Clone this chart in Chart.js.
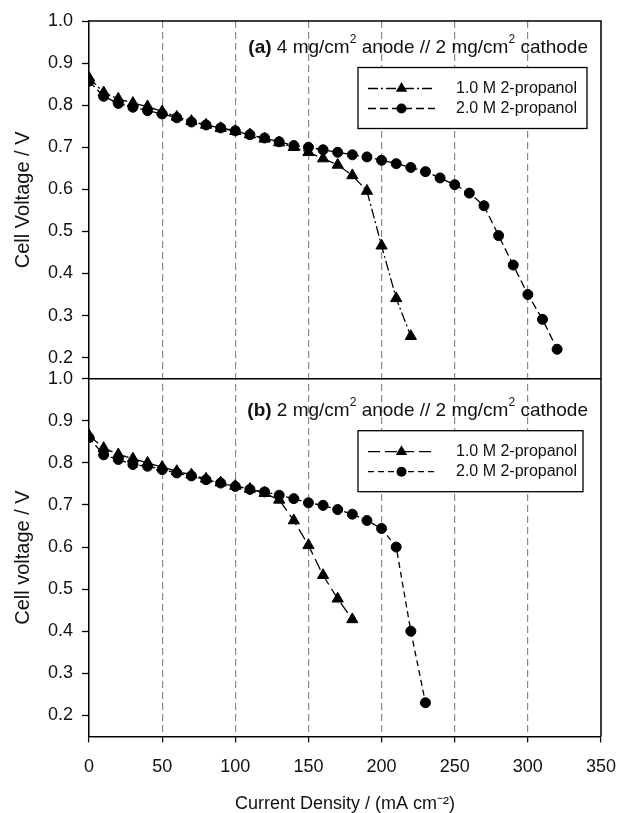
<!DOCTYPE html>
<html>
<head>
<meta charset="utf-8">
<script src="https://cdn.jsdelivr.net/npm/chart.js@4.4.0/dist/chart.umd.min.js"></script>
<style>
  html, body { margin: 0; padding: 0; background: #fff; }
</style>
</head>
<body>
<canvas id="fuelCell" width="618" height="813"></canvas>
<script>
// ---- data ----
// (a) 4 mg/cm2 anode // 2 mg/cm2 cathode
var xTopLow = [0,10,20,30,40,50,60,70,80,90,100,110,120,130,140,150,160,170,180,190,200,210,220]
var vTopLow = [0.865,0.83,0.815,0.805,0.797,0.785,0.772,0.762,0.753,0.745,0.738,0.73,0.72,0.711,0.70,0.688,0.673,0.658,0.633,0.596,0.466,0.341,0.251]
var xTopHigh = [0,10,20,30,40,50,60,70,80,90,100,110,120,130,140,150,160,170,180,190,200,210,220,230,240,250,260,270,280,290,300,310,320]
var vTopHigh = [0.857,0.821,0.804,0.795,0.787,0.779,0.770,0.760,0.753,0.746,0.739,0.730,0.722,0.713,0.704,0.700,0.694,0.688,0.682,0.677,0.669,0.661,0.652,0.642,0.627,0.611,0.591,0.561,0.490,0.420,0.350,0.291,0.220]

// (b) 2 mg/cm2 anode // 2 mg/cm2 cathode
var xBotLow = [0,10,20,30,40,50,60,70,80,90,100,110,120,130,140,150,160,170,180]
var vBotLow = [0.865,0.835,0.82,0.81,0.80,0.79,0.78,0.772,0.762,0.753,0.745,0.738,0.728,0.712,0.663,0.604,0.533,0.477,0.428]
var xBotHigh = [0,10,20,30,40,50,60,70,80,90,100,110,120,130,140,150,160,170,180,190,200,210,220,230]
var vBotHigh = [0.860,0.819,0.808,0.796,0.792,0.784,0.776,0.769,0.760,0.752,0.744,0.737,0.731,0.723,0.715,0.705,0.699,0.689,0.678,0.663,0.644,0.600,0.400,0.230]

var seriesNames = ['1.0 M 2-propanol', '2.0 M 2-propanol']
var yTickValues = [0.2, 0.3, 0.4, 0.5, 0.6, 0.7, 0.8, 0.9, 1.0]
var xTickValues = [0, 50, 100, 150, 200, 250, 300, 350]

var FONT = "'Liberation Sans', Arial, sans-serif"
var INK = '#111'

function pts(xs, ys){
  return xs.map(function(x, i){ return {x: x, y: ys[i]} })
}

function series(label, xs, ys, axis, style, dash){
  return {
    label: label,
    data: pts(xs, ys),
    yAxisID: axis,
    borderColor: '#000',
    backgroundColor: '#000',
    borderWidth: 1.3,
    borderDash: dash,
    pointStyle: style,
    pointRadius: style === 'triangle' ? 6.5 : 5,
    pointBorderWidth: 1,
    pointBackgroundColor: '#000',
    pointBorderColor: '#000',
    tension: 0
  }
}

var datasets = [
  series(seriesNames[0], xTopLow, vTopLow, 'yTop', 'triangle', [10, 3, 2, 3]),
  series(seriesNames[1], xTopHigh, vTopHigh, 'yTop', 'circle', [8, 4]),
  series(seriesNames[0], xBotLow, vBotLow, 'yBot', 'triangle', [12, 5]),
  series(seriesNames[1], xBotHigh, vBotHigh, 'yBot', 'circle', [6, 4])
]

function yAxis(title){
  return {
    type: 'linear',
    position: 'left',
    stack: 'panels',
    stackWeight: 1,
    min: 0.15,
    max: 1.0,
    afterBuildTicks: function(scale){
      scale.ticks = yTickValues.map(function(v){ return {value: v} })
    },
    ticks: {
      font: {family: FONT, size: 18},
      color: INK,
      padding: 9,
      callback: function(v){ return Number(v).toFixed(1) }
    },
    grid: {drawOnChartArea: false, drawTicks: true, tickLength: 7, tickColor: '#000', tickWidth: 1.3},
    border: {color: '#000', width: 1.5},
    title: {display: true, text: title, font: {family: FONT, size: 20}, color: INK, padding: {top: 4, bottom: 4}}
  }
}

/* panel texts and legends */
var panelDecor = {
  id: 'panelDecor',
  afterDraw: function(chart){
    var ctx = chart.ctx
    var ca = chart.chartArea
    var top = chart.scales.yTop, bot = chart.scales.yBot
    ctx.save()
    ctx.strokeStyle = '#000'
    ctx.lineWidth = 1.5
    ctx.beginPath()
    ctx.moveTo(ca.left, ca.top); ctx.lineTo(ca.right, ca.top); ctx.lineTo(ca.right, ca.bottom)
    ctx.moveTo(ca.left, top.bottom); ctx.lineTo(ca.right, top.bottom)
    ctx.stroke()
    ctx.restore()

    drawPanelTitle(ctx, '(a)', '4', ca.right - 13, top.top + 27)
    drawPanelTitle(ctx, '(b)', '2', ca.right - 13, bot.top + 32)

    drawLegend(ctx, [datasets[0], datasets[1]], 358, top.top + 46.5, 229)
    drawLegend(ctx, [datasets[2], datasets[3]], 358, bot.top + 52, 225)
  }
}

function drawPanelTitle(ctx, tag, load, right, y){
  var parts = [
    {t: tag, bold: true},
    {t: ' ' + load + ' mg/cm'},
    {t: '2', sup: true},
    {t: ' anode // 2 mg/cm'},
    {t: '2', sup: true},
    {t: ' cathode'}
  ]
  function fontOf(p){
    if (p.sup) return '12px ' + FONT
    return (p.bold ? 'bold ' : '') + '19px ' + FONT
  }
  ctx.save()
  var total = 0
  parts.forEach(function(p){ ctx.font = fontOf(p); total += ctx.measureText(p.t).width })
  var x = right - total
  ctx.fillStyle = INK
  ctx.textBaseline = 'middle'
  ctx.textAlign = 'left'
  parts.forEach(function(p){
    ctx.font = fontOf(p)
    ctx.fillText(p.t, x, p.sup ? y - 8 : y)
    x += ctx.measureText(p.t).width
  })
  ctx.restore()
}

function drawLegend(ctx, sets, x, y, w){
  var h = 61
  ctx.save()
  ctx.strokeStyle = '#000'
  ctx.lineWidth = 1.3
  ctx.fillStyle = '#fff'
  ctx.fillRect(x, y, w, h)
  ctx.strokeRect(x, y, w, h)
  sets.forEach(function(ds, i){
    var ry = y + 21 + i * 20
    ctx.setLineDash(ds.borderDash)
    ctx.lineWidth = 1.3
    ctx.beginPath(); ctx.moveTo(x + 10, ry); ctx.lineTo(x + 77, ry); ctx.stroke()
    ctx.setLineDash([])
    ctx.fillStyle = '#000'
    ctx.beginPath()
    if (ds.pointStyle === 'circle') {
      ctx.arc(x + 43.5, ry, 5, 0, Math.PI * 2)
    } else {
      ctx.moveTo(x + 43.5, ry - 6.5); ctx.lineTo(x + 49.2, ry + 3.3); ctx.lineTo(x + 37.8, ry + 3.3); ctx.closePath()
    }
    ctx.fill()
    ctx.fillStyle = INK
    ctx.font = '16px ' + FONT
    ctx.textBaseline = 'middle'
    ctx.fillText(ds.label, x + 98, ry)
  })
  ctx.restore()
}

new Chart(document.getElementById('fuelCell'), {
  type: 'line',
  data: {datasets: datasets},
  options: {
    responsive: false,
    animation: false,
    layout: {padding: {left: 7, right: 0, top: 21, bottom: 0}},
    plugins: {legend: {display: false}, tooltip: {enabled: false}},
    scales: {
      x: {
        type: 'linear',
        min: 0,
        max: 350,
        afterBuildTicks: function(scale){
          scale.ticks = xTickValues.map(function(v){ return {value: v} })
        },
        // keep the right margin fixed instead of label width + padding
        afterFit: function(scale){ scale.paddingRight = 17 },
        ticks: {font: {family: FONT, size: 18}, color: INK, padding: 14},
        grid: {
          color: function(c){ return (c.tick && (c.tick.value === 0 || c.tick.value === 350)) ? 'rgba(0,0,0,0)' : '#8a8a8a' },
          lineWidth: 1.2,
          tickLength: 6,
          tickColor: '#000',
          tickWidth: 1.3,
          tickBorderDash: []
        },
        border: {color: '#000', width: 1.5, dash: [7, 4]},
        title: {display: true, text: 'Current Density / (mA cm⁻²)', font: {family: FONT, size: 18, lineHeight: 1}, color: INK, padding: {top: 3, bottom: 0}}
      },
      // stacked axes: the first one listed sits at the bottom
      yBot: yAxis('Cell voltage / V'),
      yTop: yAxis('Cell Voltage / V')
    }
  },
  plugins: [panelDecor]
})
</script>
</body>
</html>
